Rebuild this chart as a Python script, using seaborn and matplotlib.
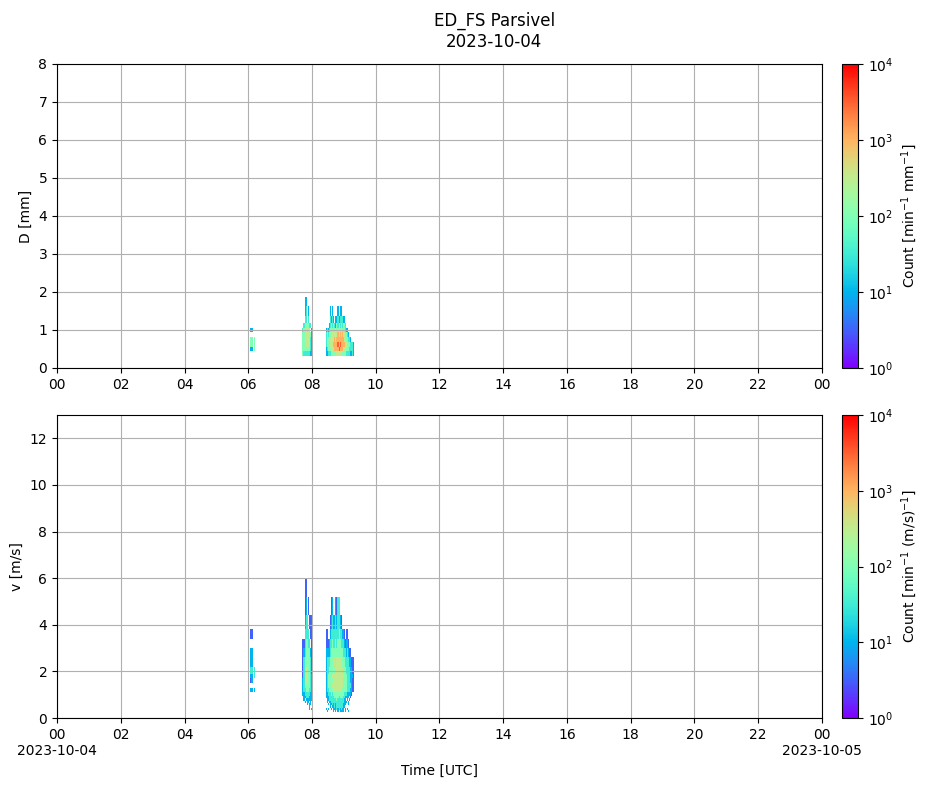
import numpy as np
import matplotlib
matplotlib.use("Agg")
import matplotlib.pyplot as plt
from matplotlib.colors import LogNorm
import seaborn as sns

# Parsivel class centres (used as mesh edges, as in the original plot)
d_class = [0.062, 0.187, 0.312, 0.437, 0.562, 0.687, 0.812, 0.937, 1.062, 1.187,
           1.375, 1.625, 1.875, 2.125, 2.375, 2.75, 3.25, 3.75, 4.25, 4.75,
           5.5, 6.5, 7.5, 8.5, 9.5, 11.0, 13.0, 15.0, 17.0, 19.0, 21.5, 24.5]
v_class = [0.05, 0.15, 0.25, 0.35, 0.45, 0.55, 0.65, 0.75, 0.85, 0.95,
           1.1, 1.3, 1.5, 1.7, 1.9, 2.2, 2.6, 3.0, 3.4, 3.8,
           4.4, 5.2, 6.0, 6.8, 7.6, 8.8, 10.4, 12.0, 13.6, 15.2, 17.6, 20.8]

step_min = 2  # minutes per column

# spectra, 2-min columns, top class first
# char = log10(count) * 2, "." = no drops
shower1_start = 6 * 60 + 4
shower1_d_top = 7
shower1_d = ["22..",
             "....",
             "44.4",
             "44.4",
             "22.4"]
shower1_v_top = 18
shower1_v = ["11..",
             "....",
             "22..",
             "22..",
             "33.3",
             "22.3",
             "12..",
             "....",
             "22.2"]

shower2_start = 7 * 60 + 42
shower2_d_top = 11
shower2_d = ["..22.....",
             "..23.2...",
             "..33.3...",
             ".3444433.",
             "3445455.2",
             "445555542",
             "445555532",
             "444555532",
             "444444432",
             "433333322"]
shower2_v_top = 21
shower2_v = ["..11.....",
             "..12.1...",
             "..233.111",
             "..3333.11",
             "1134433.1",
             "123444421",
             "134454431",
             "134554431",
             "134554432",
             "234554432",
             "234444432",
             "233444332",
             "223333322",
             ".22333222",
             ".2.222222",
             "..2.22.2.",
             "....2.22.",
             "......2..",
             "......2.2"]

shower3_start = 8 * 60 + 26
shower3_d_top = 10
shower3_d = ["....2.2....2.22",
             "....3232.223233322",
             "...2343432434343443",
             "232344444544545444322",
             "3434455555565656554432",
             "344455556566666665544332",
             "344455566667676666554443332",
             "234445556666766655544433332",
             "223334444455555444433332232"]
shower3_v_top = 20
shower3_v = [".....12..2133",
             "....12322323321",
             "11..23333333433221.11",
             "1112334334344433321221",
             "222234444444444433323211",
             "233344445455555444333322111",
             "233444454555555544433332211",
             "234444555555555554443332221",
             "234445455555555544443332211",
             "234444555555555544443333211",
             "233444455555555444443332211",
             "2233343444444444433322221",
             "2223333344443444332222.1",
             ".223333333433333322.2.2",
             ".2.22333333333333222.2",
             "..2.223232333333222..2",
             "....2.223233333322",
             "2.2..2.2223232322.2.2",
             ".2.....2.2.2.2222.2..2"]

n_cols = 24 * 60 // step_min
t_edges = np.arange(n_cols + 1) * step_min / 60.0


def fill(grid, start, top, rows):
    col0 = start // step_min
    width = max(len(r) for r in rows)
    for k, row in enumerate(rows):
        row = row.ljust(width, ".")
        for j, ch in enumerate(row):
            if ch != ".":
                grid[top - k, col0 + j] = 10 ** (int(ch) / 2.0)


spec_d = np.full((len(d_class) - 1, n_cols), np.nan)
spec_v = np.full((len(v_class) - 1, n_cols), np.nan)
for start, top, rows in [(shower1_start, shower1_d_top, shower1_d),
                         (shower2_start, shower2_d_top, shower2_d),
                         (shower3_start, shower3_d_top, shower3_d)]:
    fill(spec_d, start, top, rows)
for start, top, rows in [(shower1_start, shower1_v_top, shower1_v),
                         (shower2_start, shower2_v_top, shower2_v),
                         (shower3_start, shower3_v_top, shower3_v)]:
    fill(spec_v, start, top, rows)

sns.set_style("ticks", {"axes.grid": False, "grid.color": "#b0b0b0",
                        "axes.edgecolor": "black", "xtick.color": "black",
                        "ytick.color": "black", "text.color": "black",
                        "axes.labelcolor": "black"})
plt.rcParams["font.family"] = ["DejaVu Sans"]
plt.rcParams["axes.axisbelow"] = "line"

cmap = sns.color_palette("rainbow", as_cmap=True)
norm = LogNorm(vmin=1, vmax=1e4)

fig = plt.figure(figsize=(9.27, 7.88), dpi=100)
ax1 = fig.add_axes([0.0615, 0.533, 0.8252, 0.3858])
cax1 = fig.add_axes([0.9083, 0.533, 0.0173, 0.3858])
ax2 = fig.add_axes([0.0615, 0.0888, 0.8252, 0.3845])
cax2 = fig.add_axes([0.9083, 0.0888, 0.0173, 0.3845])

hour_ticks = list(range(0, 25, 2))
hour_labels = ["%02d" % (h % 24) for h in hour_ticks]

m1 = ax1.pcolormesh(t_edges, d_class, np.ma.masked_invalid(spec_d),
                    cmap=cmap, norm=norm, shading="flat")
ax1.set_ylim(0, 8)
ax1.set_ylabel("D [mm]")

m2 = ax2.pcolormesh(t_edges, v_class, np.ma.masked_invalid(spec_v),
                    cmap=cmap, norm=norm, shading="flat")
ax2.set_ylim(0, 13)
ax2.set_yticks(range(0, 13, 2))
ax2.set_ylabel("v [m/s]")
ax2.set_xlabel("Time [UTC]")

for ax in (ax1, ax2):
    ax.set_xlim(0, 24)
    ax.set_xticks(hour_ticks)
    ax.grid(True, color="#b0b0b0", linewidth=0.8)
    for sp in ax.spines.values():
        sp.set_linewidth(0.8)
        sp.set_zorder(3)

ax1.set_xticklabels(hour_labels)
bottom_labels = hour_labels[:]
bottom_labels[0] = "00\n2023-10-04"
bottom_labels[-1] = "00\n2023-10-05"
ax2.set_xticklabels(bottom_labels)

cb1 = fig.colorbar(m1, cax=cax1)
cb1.set_label("Count [min$^{-1}$ mm$^{-1}$]")
cb2 = fig.colorbar(m2, cax=cax2)
cb2.set_label("Count [min$^{-1}$ (m/s)$^{-1}$]")
for cb in (cb1, cb2):
    cb.ax.minorticks_off()
    cb.ax.grid(False)
    cb.outline.set_linewidth(0.8)

fig.suptitle("ED_FS Parsivel\n2023-10-04", x=0.533, y=0.985, fontsize=12)

fig.savefig("out.png", dpi=100)
